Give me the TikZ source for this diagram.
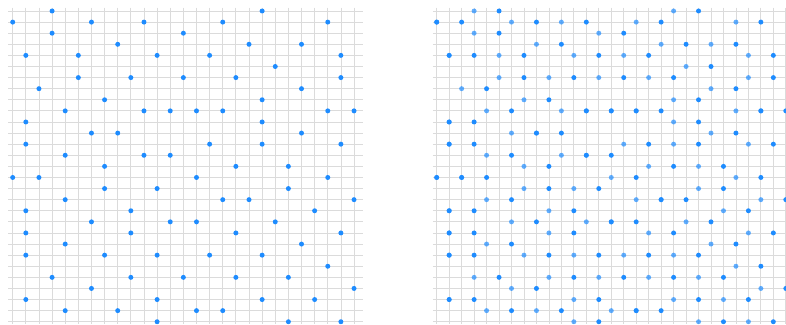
\documentclass[tikz,border=0pt]{standalone}
\usepackage{tikz}

\definecolor{dotblue}{RGB}{30,140,255}
\newcommand{\basepts}{3/0,19/0,0/1,6/1,10/1,16/1,24/1,3/2,13/2,8/3,18/3,22/3,
  1/4,5/4,11/4,15/4,25/4,20/5,5/6,9/6,13/6,17/6,25/6,2/7,22/7,7/8,19/8,
  4/9,10/9,12/9,14/9,16/9,24/9,26/9,1/10,19/10,6/11,8/11,22/11,
  1/12,15/12,19/12,25/12,4/13,10/13,12/13,7/14,17/14,21/14,
  0/15,2/15,14/15,24/15,7/16,11/16,21/16,4/17,16/17,18/17,26/17,
  1/18,9/18,23/18,6/19,12/19,14/19,20/19,1/20,9/20,17/20,25/20,
  4/21,22/21,1/22,7/22,11/22,15/22,19/22,24/23,3/24,9/24,13/24,17/24,21/24,
  6/25,26/25,1/26,11/26,19/26,23/26,4/27,8/27,14/27,16/27,11/28,21/28,25/28}
\newcommand{\addedpts}{5/0,21/0,0/1,2/1,8/1,12/1,18/1,26/1,5/2,15/2,10/3,20/3,24/3,
  1/4,3/4,7/4,13/4,17/4,27/4,22/5,7/6,11/6,15/6,19/6,27/6,4/7,24/7,9/8,21/8,
  6/9,12/9,14/9,16/9,18/9,26/9,28/9,1/10,3/10,21/10,8/11,10/11,24/11,
  1/12,3/12,17/12,21/12,27/12,6/13,12/13,14/13,9/14,19/14,23/14,
  0/15,2/15,4/15,16/15,26/15,9/16,13/16,23/16,6/17,18/17,20/17,28/17,
  1/18,3/18,11/18,25/18,8/19,14/19,16/19,22/19,1/20,3/20,11/20,19/20,27/20,
  6/21,24/21,1/22,3/22,9/22,13/22,17/22,21/22,26/23,5/24,11/24,15/24,19/24,23/24,
  8/25,28/25,1/26,3/26,13/26,21/26,25/26,6/27,10/27,16/27,18/27,13/28,23/28,27/28}

\begin{document}
\begin{tikzpicture}[x=0.02cm,y=-0.02cm,
  gridline/.style={gray!28,line width=0.45pt},
  sample/.style={fill=dotblue},
  oldsample/.style={fill=dotblue,fill opacity=0.7}]
  \useasboundingbox (0,0) rectangle (786,324);

  \begin{scope}[shift={(12.7,11)},x=0.2626cm,y=-0.222cm]
    \foreach \i in {0,...,26}
      \draw[gridline] (\i,-0.3) -- (\i,28.2);
    \foreach \j in {0,...,28}
      \draw[gridline] (-0.35,\j) -- (26.7,\j);
    \foreach \c/\r in \basepts
      \fill[sample] (\c,\r) circle[radius=0.05cm];
  \end{scope}

  \begin{scope}[shift={(436.7,11)},x=0.2494cm,y=-0.222cm]
    \foreach \i in {0,...,28}
      \draw[gridline] (\i,-0.3) -- (\i,28.2);
    \foreach \j in {0,...,28}
      \draw[gridline] (-0.3,\j) -- (28.1,\j);
    \foreach \c/\r in \basepts
      \fill[oldsample] (\c,\r) circle[radius=0.05cm];
    \foreach \c/\r in \addedpts
      \fill[sample] (\c,\r) circle[radius=0.05cm];
  \end{scope}
\end{tikzpicture}
\end{document}
